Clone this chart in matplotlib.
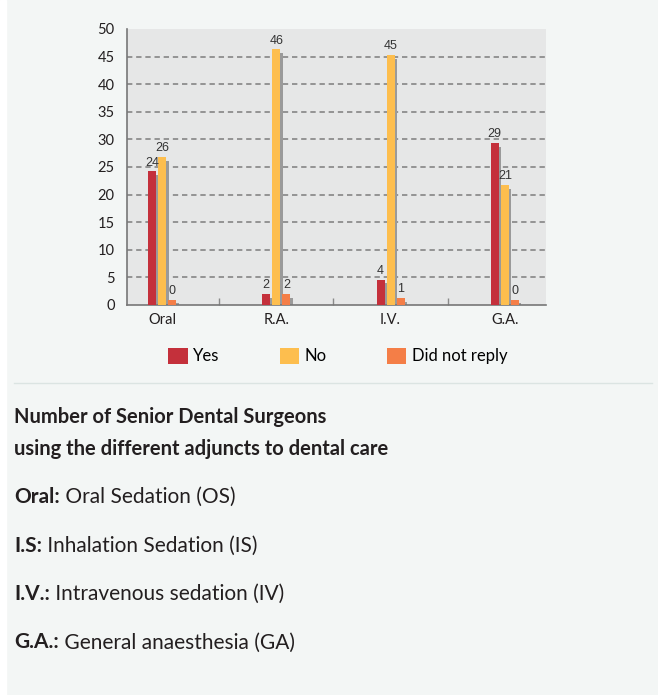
import matplotlib
matplotlib.use('Agg')
import matplotlib.pyplot as plt
import numpy as np
from matplotlib.patches import Patch, Rectangle
from matplotlib.lines import Line2D

# ---- data ----
categories = ['Oral', 'R.A.', 'I.V.', 'G.A.']
series = ['Yes', 'No', 'Did not reply']
yes = [24, 2, 4, 29]
no = [26, 46, 45, 21]
no_reply = [0, 2, 1, 0]
# bar heights as drawn in the picture (the bars don't sit exactly on the labelled value)
yes_h = [24.2, 2.0, 4.6, 29.4]
no_h = [26.8, 46.3, 45.3, 21.8]
no_reply_h = [0.9, 2.0, 1.3, 0.9]
yticks = [0, 5, 10, 15, 20, 25, 30, 35, 40, 45, 50]

title_lines = ['Number of Senior Dental Surgeons', 'using the different adjuncts to dental care']
notes = [('Oral:', ' Oral Sedation (OS)'),
         ('I.S:', ' Inhalation Sedation (IS)'),
         ('I.V.:', ' Intravenous sedation (IV)'),
         ('G.A.:', ' General anaesthesia (GA)')]

COLORS = ['#c4303b', '#fdbe4e', '#f47e47']
SHADOW = '#9a9a9a'
BG = '#f3f6f5'
TXT = '#231f20'
FONT = 'Lato'

W, H = 658, 695
fig = plt.figure(figsize=(W/100, H/100), dpi=100, facecolor=BG)
fig.patches.append(Rectangle((0, 0), 6/W, 1, transform=fig.transFigure, color='white', zorder=0))

ax = fig.add_axes([127/W, 1-305/H, 419/W, 276/H])
ax.set_facecolor('#e6e7e7')

x = np.arange(len(categories))
bw = 0.07
step = 0.088
for i, (h, v) in enumerate(zip([yes_h, no_h, no_reply_h], [yes, no, no_reply])):
    xs = x + (i-1)*step
    h = np.array(h)
    ax.bar(xs + 0.022, np.maximum(h - 0.7, 0.3), bw, color=SHADOW, zorder=2, linewidth=0)
    ax.bar(xs, h, bw, color=COLORS[i], zorder=3, linewidth=0)
    for xx, hh, vv in zip(xs, h, v):
        ax.annotate(str(vv), (xx, hh), xytext=(0, 2), textcoords='offset points',
                    ha='center', va='bottom', fontsize=9, color='#333333',
                    family='Liberation Sans', zorder=4)

ax.set_ylim(0, 50)
ax.set_xlim(-0.307, 3.36)
ax.set_yticks(yticks)
for yv in yticks[1:-1]:
    ax.axhline(yv, color='#7d7d7d', lw=1.1, ls=(0, (3.5, 2.5)), zorder=1)

ax.set_xticks(x)
ax.set_xticklabels(categories)
ax.set_xticks(x[:-1] + 0.5, minor=True)
ax.tick_params(axis='x', which='major', length=0, pad=6, labelsize=10.5, labelcolor=TXT)
ax.tick_params(axis='x', which='minor', direction='in', length=5, width=1, color='#8a8a8a')
ax.tick_params(axis='y', length=0, pad=9, labelsize=10.5, labelcolor=TXT)
for lab in ax.get_xticklabels() + ax.get_yticklabels():
    lab.set_family(FONT)
for s in ['top', 'right']:
    ax.spines[s].set_visible(False)
for s in ['left', 'bottom']:
    ax.spines[s].set_color('#777777')
    ax.spines[s].set_linewidth(1.2)

handles = [Patch(facecolor=c, edgecolor='none') for c in COLORS]
fig.legend(handles, series, loc='center', bbox_to_anchor=(338/W, 1-356/H), ncol=3,
           frameon=False, prop={'family': FONT, 'size': 12}, handlelength=1.15, handleheight=1.15,
           handletextpad=0.35, columnspacing=3.6)

fig.add_artist(Line2D([14/W, 652/W], [1-383/H, 1-383/H], color='#dbe4e2', lw=1))

for k, line in enumerate(title_lines):
    fig.text(14/W, 1-(423+32*k)/H, line, fontsize=14.5, fontweight='bold', family=FONT,
             color=TXT, va='baseline', ha='left')

fig.canvas.draw()
r = fig.canvas.get_renderer()
for k, (b, t) in enumerate(notes):
    yb = 1-(503+48.5*k)/H
    tb = fig.text(14/W, yb, b, fontsize=15, fontweight='bold', family=FONT, color=TXT, va='baseline')
    bb = tb.get_window_extent(renderer=r)
    fig.text(bb.x1/W, yb, t, fontsize=15, family=FONT, color=TXT, va='baseline')

fig.savefig('out.png', dpi=100, facecolor=BG)
